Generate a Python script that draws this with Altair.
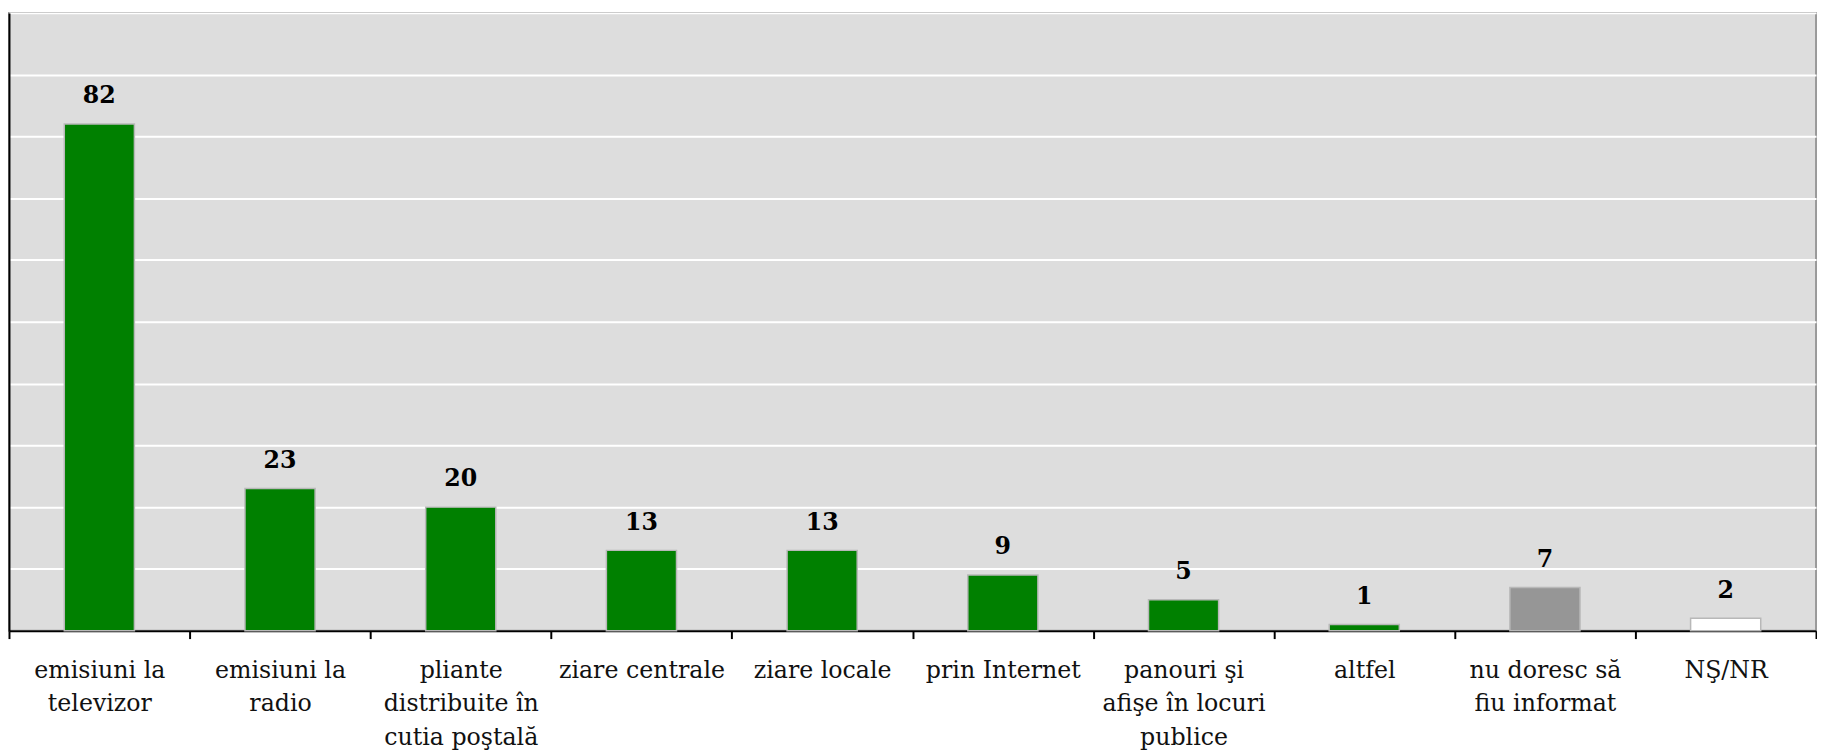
import altair as alt
import pandas as pd

categories = [
    "emisiuni la\ntelevizor",
    "emisiuni la\nradio",
    "pliante\ndistribuite în\ncutia poştală",
    "ziare centrale",
    "ziare locale",
    "prin Internet",
    "panouri şi\nafişe în locuri\npublice",
    "altfel",
    "nu doresc să\nfiu informat",
    "NŞ/NR",
]
values = [82, 23, 20, 13, 13, 9, 5, 1, 7, 2]
colors = ["#008000"] * 8 + ["#969696", "#ffffff"]

df = pd.DataFrame({"cat": categories, "val": values, "col": colors})

FONT = "DejaVu Serif"

x = alt.X(
    "cat:N",
    sort=None,
    scale=alt.Scale(paddingInner=0, paddingOuter=0),
    axis=alt.Axis(
        title=None,
        labelAngle=0,
        labelExpr="split(datum.label, '\\n')",
        labelFont=FONT,
        labelFontSize=24,
        labelColor="#111111",
        labelLineHeight=34,
        labelPadding=20,
        labelLimit=400,
        tickBand="extent",
        tickSize=8,
        tickColor="#000000",
        tickWidth=2,
        domainColor="#000000",
        domainWidth=2,
        grid=False,
    ),
)
y = alt.Y(
    "val:Q",
    scale=alt.Scale(domain=[0, 100]),
    axis=alt.Axis(
        title=None,
        labels=False,
        ticks=False,
        values=list(range(0, 101, 10)),
        domainColor="#000000",
        domainWidth=2,
        grid=True,
        gridColor="#ffffff",
        gridWidth=2,
    ),
)

bars = alt.Chart(df).mark_bar(
    stroke="#b8b8b8", strokeWidth=1.5, width=alt.RelativeBandSize(0.388)
).encode(x=x, y=y, fill=alt.Fill("col:N", scale=None))
text = alt.Chart(df).mark_text(
    font=FONT, fontSize=24, fontWeight="bold", color="#000000", dy=-28, baseline="middle"
).encode(x=x, y=y, text="val:Q")

chart = (
    alt.layer(bars, text)
    .properties(width=1831, height=626, padding=0)
    .configure_view(fill="#dddddd", stroke="#999999", strokeWidth=2)
)

chart.save("out.html", embed_options={"renderer": "svg", "actions": False})
